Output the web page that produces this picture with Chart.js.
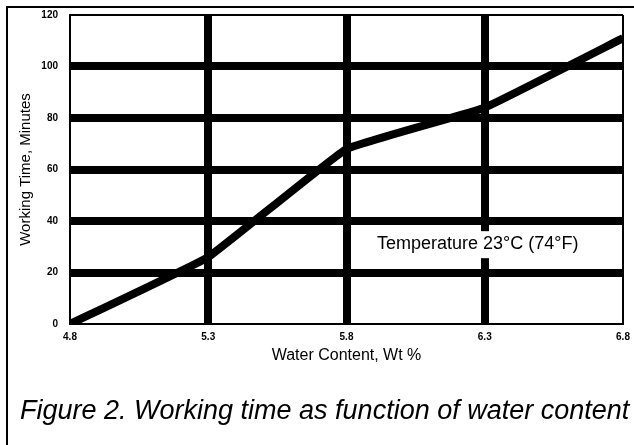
<!DOCTYPE html>
<html>
<head>
<meta charset="utf-8">
<script src="https://cdn.jsdelivr.net/npm/chart.js@4/dist/chart.umd.min.js"></script>
<style>
  html, body { margin: 0; padding: 0; background: #fff; }
  #wrap { position: relative; width: 634px; height: 445px; }
  #frame { position: absolute; left: 6px; top: 6px; right: 0; bottom: 0;
           border-left: 2px solid #000; border-top: 2px solid #000; pointer-events: none; }
  canvas { position: absolute; left: 0; top: 0; }
</style>
</head>
<body>
<div id="wrap">
  <canvas id="c" width="634" height="445"></canvas>
  <div id="frame"></div>
</div>
<script>
// ---- data ----
const waterContent = [4.8, 5.3, 5.8, 6.3, 6.8];          // Wt %
const workingTime  = [0, 26, 68, 84, 111];               // minutes
const xTickValues  = [4.8, 5.3, 5.8, 6.3, 6.8];
const yTickValues  = [0, 20, 40, 60, 80, 100, 120];
const xAxisTitle   = 'Water Content, Wt %';
const yAxisTitle   = 'Working Time, Minutes';
const noteText     = 'Temperature 23°C (74°F)';
const noteAt       = { x: 5.91, y: 31 };
const captionText  = 'Figure 2. Working time as function of water content';

const points = waterContent.map((x, i) => ({ x: x, y: workingTime[i] }));

function gridWidth(ctx) {
  const n = ctx.scale.ticks.length;
  return (ctx.index === 0 || ctx.index === n - 1) ? 2 : 8;
}

const extras = {
  id: 'extras',
  afterDatasetsDraw(chart) {
    const c = chart.ctx;
    const xs = chart.scales.x, ys = chart.scales.y;
    const tx = xs.getPixelForValue(noteAt.x), ty = ys.getPixelForValue(noteAt.y);
    c.save();
    c.font = '18px Arial, "Liberation Sans", sans-serif';
    const w = c.measureText(noteText).width;
    c.fillStyle = '#fff';
    c.fillRect(tx - 4, ty - 13, w + 8, 27);
    c.fillStyle = '#000';
    c.textAlign = 'left';
    c.textBaseline = 'middle';
    c.fillText(noteText, tx, ty);
    c.font = 'italic 27px Arial, "Liberation Sans", sans-serif';
    c.textBaseline = 'alphabetic';
    c.fillText(captionText, 20, 419);
    c.restore();
  }
};

new Chart(document.getElementById('c'), {
  type: 'line',
  data: {
    datasets: [{
      data: points,
      borderColor: '#000',
      borderWidth: 8,
      pointRadius: 0,
      tension: 0.08,
      fill: false
    }]
  },
  options: {
    responsive: false,
    animation: false,
    layout: { padding: { left: 8, top: 15, right: 11, bottom: 77 } },
    plugins: { legend: { display: false }, tooltip: { enabled: false }, title: { display: false } },
    scales: {
      x: {
        type: 'linear',
        min: 4.8, max: 6.8,
        afterBuildTicks: s => { s.ticks = xTickValues.map(v => ({ value: v })); },
        afterFit: s => { s.height = 44; s.paddingLeft = 0; s.paddingRight = 0; },
        grid: { color: '#000', lineWidth: gridWidth, drawTicks: false },
        border: { display: true, color: '#000', width: 2 },
        ticks: {
          color: '#000', padding: 7,
          font: { family: 'Arial, "Liberation Sans", sans-serif', size: 10, weight: 'bold' },
          callback: v => Number(v).toFixed(1),
          maxRotation: 0, autoSkip: false
        },
        title: {
          display: true, text: xAxisTitle, color: '#000',
          font: { family: 'Arial, "Liberation Sans", sans-serif', size: 16 },
          padding: { top: 4, bottom: 3 }
        }
      },
      y: {
        min: 0, max: 120,
        afterBuildTicks: s => { s.ticks = yTickValues.map(v => ({ value: v })); },
        afterFit: s => { s.width = 62; s.paddingTop = 0; s.paddingBottom = 0; },
        grid: { color: '#000', lineWidth: gridWidth, drawTicks: false },
        border: { display: true, color: '#000', width: 2 },
        ticks: {
          color: '#000', padding: 12,
          font: { family: 'Arial, "Liberation Sans", sans-serif', size: 10, weight: 'bold' }
        },
        title: {
          display: true, text: yAxisTitle, color: '#000',
          font: { family: 'Arial, "Liberation Sans", sans-serif', size: 15 },
          padding: { top: 9, bottom: 4 }
        }
      }
    }
  },
  plugins: [extras]
});
</script>
</body>
</html>
